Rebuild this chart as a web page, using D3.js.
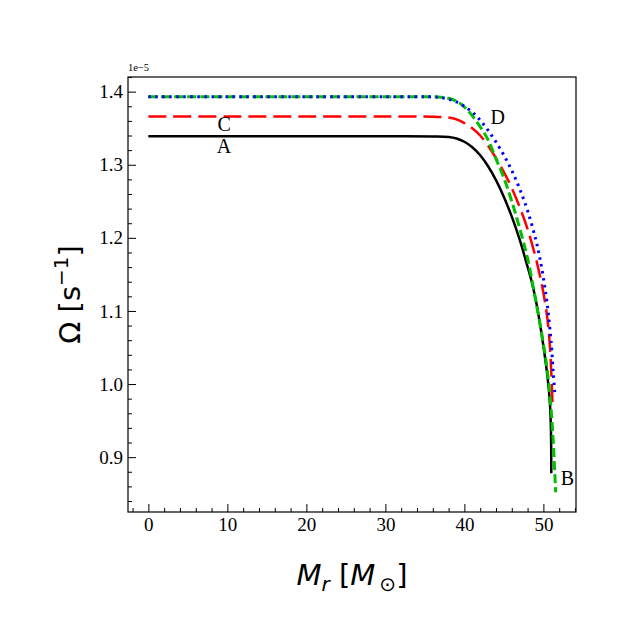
<!DOCTYPE html>
<html>
<head>
<meta charset="utf-8">
<script src="https://cdn.jsdelivr.net/npm/d3@7"></script>
<style>
  body { margin: 0; background: #fff; }
  svg { display: block; }
</style>
</head>
<body>
<svg id="chart" width="640" height="640"></svg>
<script>
// curve A (black, solid)
var massA  = [0, 10, 20, 30, 36, 38, 39, 40, 41, 42, 43, 44, 45, 46, 47, 48, 48.5, 49, 49.5, 50, 50.5, 50.8, 50.95, 51.0];
var omegaA = [1.339, 1.339, 1.339, 1.339, 1.3388, 1.338, 1.336, 1.3315, 1.324, 1.313, 1.298, 1.279, 1.256, 1.229, 1.1975, 1.1605, 1.141, 1.117, 1.087, 1.052, 1.012, 0.978, 0.94, 0.878];

// curve B (green, dashed)
var massB  = [0, 10, 20, 30, 36, 37, 38, 39, 40, 41, 42, 43, 44, 45, 46, 47, 48, 49, 50, 50.5, 51.0, 51.3, 51.55];
var omegaB = [1.393, 1.393, 1.393, 1.393, 1.393, 1.3925, 1.391, 1.387, 1.379, 1.367, 1.352, 1.334, 1.308, 1.282, 1.25, 1.213, 1.172, 1.116, 1.055, 1.018, 0.962, 0.91, 0.852];

// curve C (red, long dash)
var massC  = [0, 10, 20, 30, 36, 38, 39, 40, 41, 42, 43, 44, 45, 46, 47, 48, 49, 49.5, 50, 50.5, 50.8, 51.0, 51.15];
var omegaC = [1.366, 1.366, 1.366, 1.366, 1.3658, 1.3645, 1.362, 1.357, 1.350, 1.340, 1.326, 1.309, 1.290, 1.268, 1.242, 1.212, 1.174, 1.151, 1.125, 1.090, 1.055, 1.015, 0.975];

// curve D (blue, dotted)
var massD  = [0, 10, 20, 30, 36, 37, 38, 39, 40, 41, 42, 43, 44, 45, 46, 47, 48, 49, 49.5, 50, 50.5, 51.0, 51.25, 51.45];
var omegaD = [1.393, 1.393, 1.393, 1.393, 1.3928, 1.392, 1.3895, 1.386, 1.380, 1.372, 1.361, 1.347, 1.331, 1.313, 1.292, 1.267, 1.237, 1.199, 1.175, 1.145, 1.108, 1.055, 1.015, 0.987];

// curve labels (left edge, baseline)
var labelText = ["A", "B", "C", "D"];
var labelMass = [8.65, 52.2, 8.75, 43.3];
var labelOmega = [1.3163, 0.8625, 1.3464, 1.356];

var xTicks = [0, 10, 20, 30, 40, 50];
var yTicks = [0.9, 1.0, 1.1, 1.2, 1.3, 1.4];

var series = [
  {m: massA, w: omegaA, color: "#000000", dash: null, width: 2.5},
  {m: massC, w: omegaC, color: "#ff0000", dash: "18,7", width: 2.5},
  {m: massB, w: omegaB, color: "#00c000", dash: "9,4", width: 3},
  {m: massD, w: omegaD, color: "#0000ff", dash: "2.5,4.5", width: 3}
];

var margin = {left: 128, top: 77, right: 64, bottom: 128};
var W = 640 - margin.left - margin.right,
    H = 640 - margin.top - margin.bottom;

var svg = d3.select("#chart");
var g = svg.append("g").attr("transform", `translate(${margin.left},${margin.top})`);

// matplotlib style 5% padding
var allM = d3.merge(series.map(s => s.m)),
    allW = d3.merge(series.map(s => s.w));
var mExt = d3.extent(allM), wExt = d3.extent(allW);
var mPad = (mExt[1] - mExt[0]) * 0.05, wPad = (wExt[1] - wExt[0]) * 0.05;

var x = d3.scaleLinear().domain([mExt[0] - mPad, mExt[1] + mPad]).range([0, W]);
var y = d3.scaleLinear().domain([wExt[0] - wPad, wExt[1] + wPad]).range([H, 0]);

// minor ticks
var xMinor = d3.range(-2, 55, 2).filter(v => v >= x.domain()[0] && v <= x.domain()[1] && v % 10 !== 0);
var yMinor = d3.range(82, 143, 2).map(v => v / 100).filter(v => v >= y.domain()[0] && v <= y.domain()[1] && Math.round(v * 100) % 10 !== 0);

var xAxis = g.append("g").attr("transform", `translate(0,${H})`)
  .call(d3.axisBottom(x).tickValues(xTicks).tickSize(-8).tickFormat(d3.format("d")));
var yAxis = g.append("g")
  .call(d3.axisLeft(y).tickValues(yTicks).tickSize(-8).tickPadding(5).tickFormat(d3.format(".1f")));

[xAxis, yAxis].forEach(a => {
  a.attr("font-family", null).attr("font-size", null);
  a.select(".domain").remove();
  a.selectAll(".tick line").attr("stroke", "#000").attr("stroke-width", 1);
  a.selectAll(".tick text")
    .attr("font-family", "Liberation Serif, serif")
    .attr("font-size", 19)
    .attr("fill", "#000");
});
// baseline of bottom tick labels just under the frame
xAxis.selectAll(".tick text").attr("y", 19).attr("dy", null);

g.append("g").attr("transform", `translate(0,${H})`)
  .call(d3.axisBottom(x).tickValues(xMinor).tickSize(-4).tickFormat(""))
  .call(a => a.select(".domain").remove())
  .selectAll("line").attr("stroke", "#000");
g.append("g")
  .call(d3.axisLeft(y).tickValues(yMinor).tickSize(-4).tickFormat(""))
  .call(a => a.select(".domain").remove())
  .selectAll("line").attr("stroke", "#000");

// curves
svg.append("clipPath").attr("id", "clip").append("rect").attr("width", W).attr("height", H);
var line = d3.line().curve(d3.curveCatmullRom.alpha(0.5));

g.append("g").attr("clip-path", "url(#clip)")
  .selectAll("path").data(series).join("path")
  .attr("d", s => line(s.m.map((m, i) => [x(m), y(s.w[i])])))
  .attr("fill", "none")
  .attr("stroke", s => s.color)
  .attr("stroke-width", s => s.width)
  .attr("stroke-dasharray", s => s.dash);

// labels
g.selectAll("text.lab").data(labelText).join("text")
  .attr("class", "lab")
  .attr("x", (d, i) => x(labelMass[i]))
  .attr("y", (d, i) => y(labelOmega[i]))
  .attr("font-family", "Liberation Serif, serif")
  .attr("font-size", 20)
  .text(d => d);

// frame
g.append("rect").attr("width", W).attr("height", H)
  .attr("fill", "none").attr("stroke", "#000").attr("stroke-width", 1.2);

// offset text
g.append("text").attr("x", 0).attr("y", -6)
  .attr("font-family", "Liberation Serif, serif").attr("font-size", 10.5)
  .text("1e\u22125");

// axis titles
var xl = svg.append("text")
  .attr("x", margin.left + W / 2).attr("y", 585)
  .attr("text-anchor", "middle")
  .attr("font-family", "DejaVu Sans, sans-serif").attr("font-size", 29);
xl.append("tspan").attr("font-style", "italic").text("M");
xl.append("tspan").attr("font-style", "italic").attr("font-size", 20).attr("dy", 6).text("r");
xl.append("tspan").attr("dy", -6).text(" [");
xl.append("tspan").attr("font-style", "italic").text("M");
xl.append("tspan").attr("font-size", 20).attr("dy", 6).text("\u2009\u2299");
xl.append("tspan").attr("dy", -6).text("]");

var yl = svg.append("text")
  .attr("transform", `translate(80,${margin.top + H / 2}) rotate(-90)`)
  .attr("text-anchor", "middle")
  .attr("font-family", "DejaVu Sans, sans-serif").attr("font-size", 29);
yl.append("tspan").text("\u03a9 [s");
yl.append("tspan").attr("font-size", 20).attr("dy", -12).text("\u22121");
yl.append("tspan").attr("dy", 12).text("]");
</script>
</body>
</html>
